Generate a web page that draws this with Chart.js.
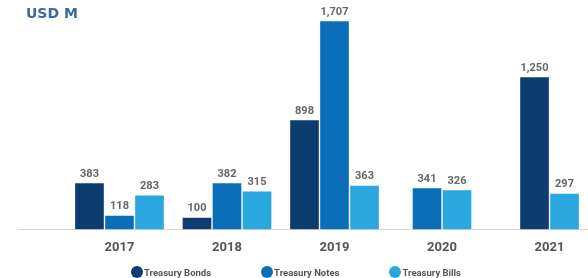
<!DOCTYPE html>
<html>
<head>
<meta charset="utf-8">
<script src="https://cdn.jsdelivr.net/npm/chart.js@4.4.1/dist/chart.umd.min.js"></script>
<style>
  html, body { margin: 0; padding: 0; background: #ffffff; }
  #wrap { position: relative; width: 588px; height: 278px; overflow: hidden; }
  #c { position: absolute; left: 0; top: 0; }
  #legend { position: absolute; left: 131px; top: 266px; display: flex; gap: 50px; align-items: center;
            font-family: Roboto, "Open Sans", sans-serif; font-weight: 700; font-size: 9.5px; color: #555; }
  .li { display: flex; align-items: center; white-space: nowrap; }
  .dot { width: 12px; height: 12px; border-radius: 50%; margin-right: 1px; }
</style>
</head>
<body>
<div id="wrap">
  <canvas id="c" width="588" height="278"></canvas>
  <div id="legend"></div>
</div>
<script>
// ---- data ----
const years = [2017, 2018, 2019, 2020, 2021];
const seriesNames = ["Treasury Bonds", "Treasury Notes", "Treasury Bills"];
const bonds = [383, 100, 898, null, 1250];
const notes = [118, 382, 1707, 341, null];
const bills = [283, 315, 363, 326, 297];
const unitLabel = "USD M";

const colors = ["#0c3c70", "#0a6fb8", "#2aa7df"];
const seriesValues = [bonds, notes, bills];

const valueLabels = {
  id: 'valueLabels',
  afterDatasetsDraw(chart) {
    const ctx = chart.ctx;
    ctx.save();
    ctx.font = "700 11px Roboto, 'Open Sans', sans-serif";
    ctx.fillStyle = "#666666";
    ctx.textAlign = "center";
    ctx.textBaseline = "bottom";
    chart.data.datasets.forEach((ds, di) => {
      const meta = chart.getDatasetMeta(di);
      meta.data.forEach((el, i) => {
        const v = ds.data[i];
        if (v === null || v === undefined) return;
        ctx.fillText(v.toLocaleString('en-US'), el.x, el.y - 3);
      });
    });
    ctx.restore();
  }
};

const unitTitle = {
  id: 'unitTitle',
  afterDraw(chart) {
    const ctx = chart.ctx;
    ctx.save();
    ctx.font = "700 14px 'DejaVu Sans', sans-serif";
    ctx.fillStyle = "#3a68a0";
    ctx.textAlign = "left";
    ctx.textBaseline = "middle";
    ctx.fillText(unitLabel, 26, 14);
    ctx.restore();
  }
};

const chart = new Chart(document.getElementById('c'), {
  type: 'bar',
  data: {
    labels: years,
    datasets: seriesNames.map((n, i) => ({
      label: n,
      data: seriesValues[i],
      backgroundColor: colors[i],
      borderColor: "#ffffff",
      borderWidth: 1,
      barThickness: 30,
      skipNull: true
    }))
  },
  options: {
    responsive: false,
    animation: false,
    layout: { padding: { left: 18, right: 0, top: 20, bottom: 11 } },
    plugins: {
      legend: { display: false },
      tooltip: { enabled: false }
    },
    scales: {
      x: {
        type: 'linear',
        offset: false,
        min: 2016.056,
        max: 2021.358,
        grid: { display: false, drawTicks: false },
        border: { display: true, color: "#d6d6d6", width: 1 },
        ticks: {
          stepSize: 1,
          includeBounds: false,
          autoSkip: false,
          padding: 11,
          color: "#555555",
          font: { family: "Roboto, 'Open Sans', sans-serif", size: 13, weight: '700' },
          callback: (v) => String(v)
        }
      },
      y: {
        display: false,
        min: 0,
        max: 1712
      }
    }
  },
  plugins: [valueLabels, unitTitle]
});

// HTML legend built from datasets
const lg = document.getElementById('legend');
chart.data.datasets.forEach(ds => {
  const item = document.createElement('div');
  item.className = 'li';
  const dot = document.createElement('span');
  dot.className = 'dot';
  dot.style.background = ds.backgroundColor;
  const t = document.createElement('span');
  t.textContent = ds.label;
  item.appendChild(dot);
  item.appendChild(t);
  lg.appendChild(item);
});
</script>
</body>
</html>
